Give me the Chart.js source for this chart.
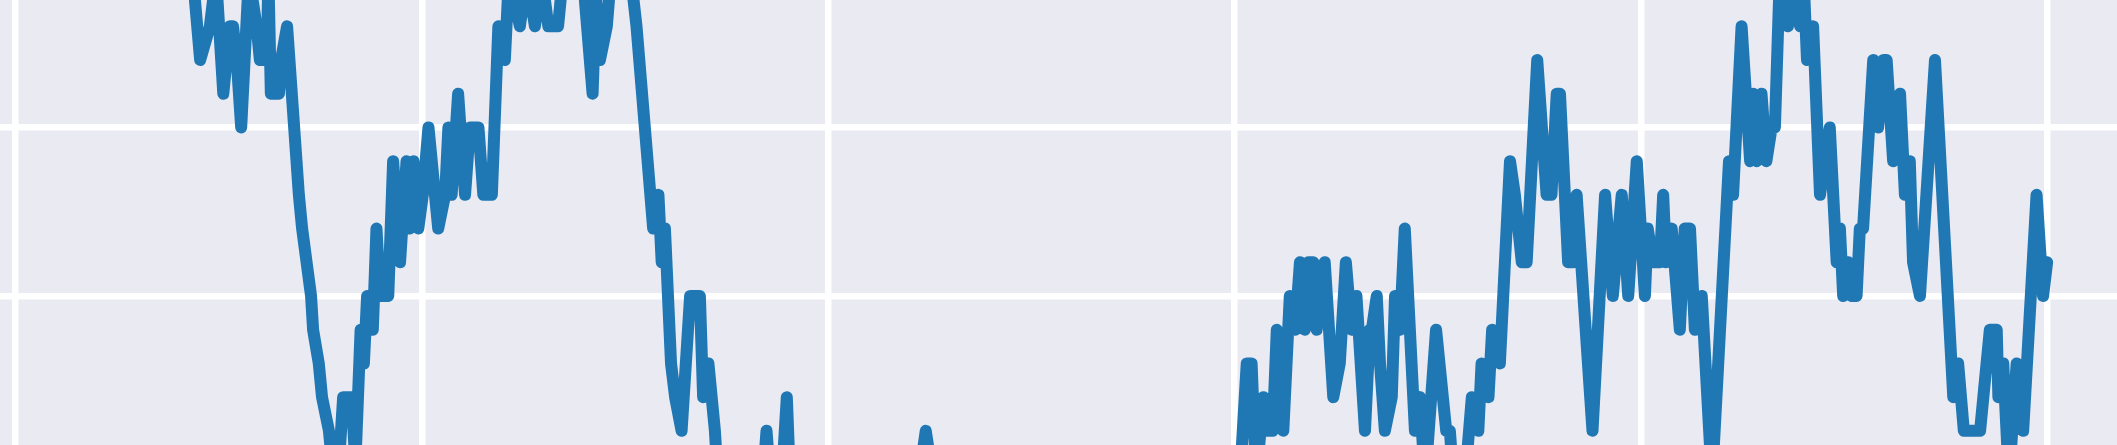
<!DOCTYPE html>
<html>
<head>
<meta charset="utf-8">
<script src="https://cdn.jsdelivr.net/npm/chart.js@4/dist/chart.umd.min.js"></script>
<style>
  html, body { margin: 0; padding: 0; background: #EAEAF2; }
  canvas { display: block; }
</style>
</head>
<body>
<canvas id="c" width="2117" height="445"></canvas>
<script>
// x positions of the series (grid every 100 units)
const xs = [
  0, 10.9, 23.2, 33.1, 41.7, 43.6, 45.4, 47.8, 49.3, 51.1, 52.7, 53.5, 54.4, 55.5, 57.4, 59.3, 60.1, 61.8, 62.2, 62.8,
  64.8, 65.3, 66.8, 69.7, 70.5, 72.7, 73.2, 74.6, 75.4, 77.1, 78.3, 79.3, 80.6, 82.7, 83.6, 84.9, 85.7, 86.5, 87.4, 87.9,
  88.8, 89.7, 91.7, 92.9, 94.6, 96.2, 97.0, 97.9, 99.1, 100.2, 101.6, 102.4, 104.0, 105.7, 106.5, 107.3, 108.9, 110.6, 111.8, 113.9,
  115.1, 117.2, 118.8, 120.4, 121.4, 124.1, 125.8, 127.8, 129.5, 131.1, 133.5, 134.7, 136.9, 139.6, 142.0, 142.8, 143.8, 145.5, 146.5, 148.7,
  151.4, 152.8, 156.9, 158.2, 159.0, 159.8, 161.3, 162.3, 163.9, 166.0, 168.4, 169.2, 170.5, 172.1, 173.1, 177.0, 181.2, 183.6, 184.8, 186.1,
  187.6, 188.8, 189.8, 190.6, 195.5, 205.3, 215.2, 221.6, 224.0, 226.5, 237.3, 254.6, 271.8, 289.0, 298.9, 301.3, 303.0, 304.2, 305.3, 307.1,
  307.5, 309.4, 310.4, 312.0, 313.6, 314.9, 316.1, 317.3, 318.1, 319.4, 320.2, 322.2, 324.3, 325.9, 327.4, 328.8, 330.0, 332.1, 333.3, 333.8,
  335.0, 335.8, 337.0, 338.7, 339.5, 340.7, 341.9, 344.4, 345.6, 346.9, 349.6, 352.1, 353.0, 354.2, 355.5, 356.7, 358.4, 360.0, 360.8, 362.5,
  363.4, 365.3, 367.8, 369.0, 370.7, 371.9, 374.5, 376.8, 378.0, 379.3, 380.1, 382.1, 383.3, 384.2, 388.1, 391.2, 393.1, 395.3, 396.9, 399.0,
  401.0, 401.7, 403.0, 404.7, 405.5, 406.2, 407.6, 409.6, 410.8, 412.1, 413.3, 415.0, 417.5, 421.7, 422.7, 424.8, 426.9, 427.7, 428.5, 429.7,
  430.9, 432.2, 433.0, 434.2, 436.2, 437.9, 439.2, 440.1, 440.9, 442.4, 444.1, 446.5, 448.2, 449.0, 449.8, 451.0, 451.9, 453.1, 453.9, 454.7,
  457.2, 458.4, 459.7, 460.5, 462.1, 463.8, 465.0, 466.2, 467.0, 468.7, 472.4, 476.9, 478.1, 479.5, 483.5, 484.3, 485.9, 487.6, 488.0, 489.2,
  490.6, 492.5, 494.1, 497.4, 499.0, 500.0
];

// series values (one level per step)
const ys = [
  10, 11, 10.5, 11, 10, 9.5, 7, 8, 9.5, 6, 8, 8, 7, 5, 9.5, 8, 7, 7, 9.5, 6,
  6, 7, 8, 3, 2, 0, -1, -2, -3, -4, -5.5, -5.5, -3, -3, -5, -1, -2, 0, 0, -1,
  2, 0, 0, 4, 1, 4, 2, 4, 2, 3, 5, 4, 2, 3, 5, 3, 6, 3, 5, 5,
  3, 3, 8, 7, 9.5, 8, 9.5, 8, 9.5, 8, 8, 9.5, 10.5, 9.5, 6, 9, 7, 8, 9.5, 10.5,
  9.5, 8, 2, 3, 1, 2, -2, -3, -4, 0, 0, -3, -2, -4, -6, -7, -6.5, -6, -4, -6,
  -6, -5, -3, -5.5, -7, -8, -7, -6, -4, -6, -7, -8, -7.5, -7, -6, -5.5, -2, -2, -5.5, -3,
  -4, -4, -1, -4, 0, -1, 1, -1, 1, 1, -1, 1, -3, -2, 1, -1, 0, -4, -1, -1,
  0, -2, -4, -3, 0, -1, 2, -4, -3, -5.5, -1, -4, -4, -6, -6.5, -5.5, -3, -4, -2, -3,
  -1, -2, 4, 3, 1, 1, 7, 3, 3, 6, 6, 1, 1, 3, -4, 3, 0, 3, 0, 4,
  0, 2, 1, 1, 3, 1, 2, -1, 2, 2, -1, 0, -5.5, 4, 3, 8, 4, 6, 4, 6,
  4, 5, 5, 9.5, 8, 9.2, 8, 9.3, 7, 8, 3, 5, 1, 2, 0, 1, 0, 0, 2, 2,
  7, 5, 7, 7, 4, 6, 3, 4, 1, 0, 7, -3, -2, -4, -4, -3, -1, -1, -3, -2,
  -5.5, -2, -4, 3, 0, 1
];

// grid tick values
const xGridTicks = [0, 100, 200, 300, 400, 500];
const yGridTicks = [0, 5];

// visible window of the axes
const xMin = -3.86, xMax = 517.2;
const yMin = -4.42, yMax = 8.78;

const points = xs.map((x, i) => ({ x: x, y: ys[i] }));

const bgPlugin = {
  id: 'bg',
  beforeDraw(chart) {
    const ctx = chart.ctx;
    ctx.save();
    ctx.fillStyle = '#EAEAF2';
    ctx.fillRect(0, 0, chart.width, chart.height);
    ctx.restore();
  }
};

new Chart(document.getElementById('c'), {
  type: 'line',
  data: {
    datasets: [{
      data: points,
      borderColor: '#1f77b4',
      borderWidth: 12,
      borderJoinStyle: 'round',
      borderCapStyle: 'round',
      pointRadius: 0,
      pointHoverRadius: 0,
      tension: 0,
      fill: false
    }]
  },
  options: {
    responsive: false,
    maintainAspectRatio: false,
    devicePixelRatio: 1,
    animation: false,
    events: [],
    layout: { padding: 0 },
    plugins: { legend: { display: false }, tooltip: { enabled: false }, title: { display: false } },
    scales: {
      x: {
        type: 'linear',
        min: xMin,
        max: xMax,
        afterBuildTicks: s => { s.ticks = xGridTicks.map(v => ({ value: v })); },
        afterFit: s => { s.height = 0; },
        ticks: { display: false },
        grid: { color: '#ffffff', lineWidth: 6.5, drawTicks: false },
        border: { display: false }
      },
      y: {
        type: 'linear',
        min: yMin,
        max: yMax,
        afterBuildTicks: s => { s.ticks = yGridTicks.map(v => ({ value: v })); },
        afterFit: s => { s.width = 0; },
        ticks: { display: false },
        grid: { color: '#ffffff', lineWidth: 6.5, drawTicks: false },
        border: { display: false }
      }
    }
  },
  plugins: [bgPlugin]
});
</script>
</body>
</html>
